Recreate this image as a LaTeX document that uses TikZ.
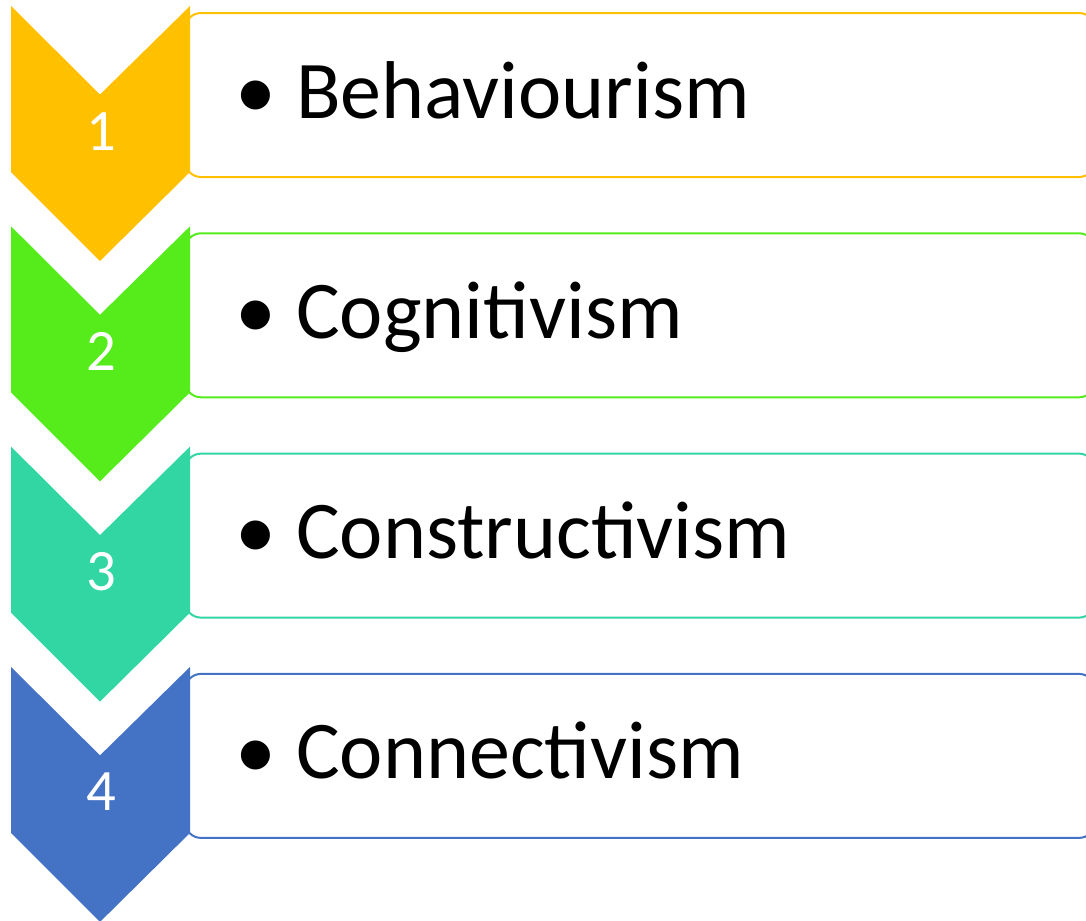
\documentclass[tikz,border=0pt]{standalone}
\usepackage{fontspec}
\setmainfont{Carlito}
\definecolor{c1}{HTML}{FFC000}
\definecolor{c2}{HTML}{56EB1B}
\definecolor{c3}{HTML}{31D6A3}
\definecolor{c4}{HTML}{4472C4}
\begin{document}
\begin{tikzpicture}[x=0.75pt,y=-0.75pt,
  boxstyle/.style={draw=#1,line width=1.5pt,fill=white,rounded corners=12pt},
  chevstyle/.style={fill=#1,draw=none},
  numstyle/.style={text=white,font=\fontsize{44}{50}\selectfont,anchor=base,inner sep=0pt},
  itemstyle/.style={font=\fontsize{61.5}{70}\selectfont,anchor=base west,inner sep=0pt}]
\useasboundingbox (0,0) rectangle (1086,921);
\foreach \i/\c/\t in {0/c1/Behaviourism,1/c2/Cognitivism,2/c3/Constructivism,3/c4/Connectivism}{
  \pgfmathsetmacro{\yo}{6+220.3*\i}
  \draw[boxstyle=\c] (185,\yo+7) rectangle (1095,\yo+171);
  \fill[chevstyle=\c] (11,\yo) -- (100,\yo+88.5) -- (190,\yo) -- (190,\yo+166) -- (100,\yo+255) -- (11,\yo+166) -- cycle;
  \node[numstyle] (n\i) at (101,\yo+144) {\the\numexpr\i+1\relax};
  \node[itemstyle] (t\i) at (296,\yo+112) {\llap{•\hspace{15pt}}\t};
}
\end{tikzpicture}
\end{document}
